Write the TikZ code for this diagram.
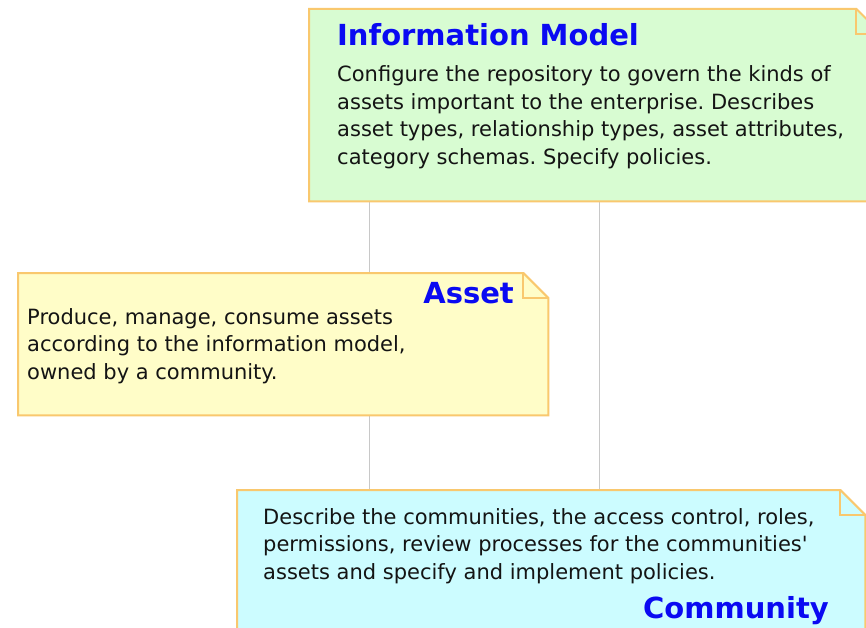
\documentclass[tikz,border=0pt]{standalone}
\usepackage{fontspec}
\setmainfont{DejaVu Sans}
\frenchspacing
\definecolor{greenfill}{HTML}{D8FCD2}
\definecolor{yellowfill}{HTML}{FFFDC8}
\definecolor{cyanfill}{HTML}{CCFCFF}
\definecolor{noteborder}{HTML}{F9C86E}
\definecolor{titleblue}{HTML}{0A0AF2}
\definecolor{bodytext}{HTML}{141414}
\definecolor{connline}{HTML}{C8C8C8}
\tikzset{
  notebox/.style={draw=none, inner sep=0pt, anchor=north west},
  noteline/.style={draw=noteborder, line width=2pt, line join=miter},
  conn/.style={draw=connline, line width=1pt},
  titletext/.style={inner sep=0pt, text=titleblue, font=\fontsize{29}{34}\selectfont\bfseries},
  bodytxt/.style={inner sep=0pt, text=bodytext, align=left, font=\fontsize{21}{27.5}\selectfont},
}
\newcommand{\dognote}[2]{%
  \draw[noteline, fill=#2] (#1.north west) -- ([xshift=-25pt]#1.north east) -- ([yshift=-25pt]#1.north east) -- (#1.south east) -- (#1.south west) -- cycle;
  \draw[noteline] ([xshift=-25pt]#1.north east) -- ([xshift=-25pt,yshift=-25pt]#1.north east) -- ([yshift=-25pt]#1.north east);
}
\begin{document}
\begin{tikzpicture}[x=1pt,y=-1pt]
\useasboundingbox (0,0) rectangle (866,628);
\clip (0,0) rectangle (866,628);
\fill[white] (0,0) rectangle (866,628);
% boxes (placeholders for anchors)
\node[notebox, minimum width=572pt, minimum height=192pt] (info) at (309,9) {};
\node[notebox, minimum width=530pt, minimum height=142pt] (asset) at (18,273) {};
\node[notebox, minimum width=628pt, minimum height=170pt] (comm) at (237,490) {};
% connectors
\draw[conn] (info.south -| 369,0) -- (asset.north -| 369,0);
\draw[conn] (asset.south -| 369,0) -- (comm.north -| 369,0);
\draw[conn] (info.south -| 599,0) -- (comm.north -| 599,0);
% notes
\dognote{info}{greenfill}
\dognote{asset}{yellowfill}
\dognote{comm}{cyanfill}
% texts (base anchor = baseline of last line)
\node[titletext, anchor=base west] (infotitle) at (337,46) {Information Model};
\node[bodytxt, anchor=base west] (infobody) at (337,164.5) {Configure the repository to govern the kinds of\\assets important to the enterprise. Describes\\asset types, relationship types, asset attributes,\\category schemas. Specify policies.};
\node[titletext, anchor=base east] (assettitle) at (514,303) {Asset};
\node[bodytxt, anchor=base west] (assetbody) at (27,379) {Produce, manage, consume assets\\according to the information model,\\owned by a community.};
\node[bodytxt, anchor=base west] (commbody) at (263,579) {Describe the communities, the access control, roles,\\permissions, review processes for the communities\textquotesingle\\assets and specify and implement policies.};
\node[titletext, anchor=base east] (commtitle) at (829,618) {Community};
\end{tikzpicture}
\end{document}
